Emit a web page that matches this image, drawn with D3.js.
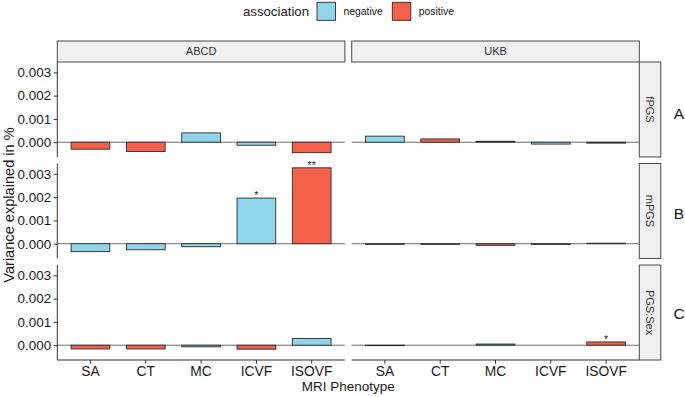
<!DOCTYPE html>
<html>
<head>
<meta charset="utf-8">
<script src="https://cdn.jsdelivr.net/npm/d3@7"></script>
<style>
  html, body { margin: 0; padding: 0; background: #fff; }
  svg text { font-family: "Liberation Sans", Arial, sans-serif; }
</style>
</head>
<body>
<svg id="chart" width="685" height="397"></svg>
<script>
// ---------------- data ----------------
const phenotypes = ["SA", "CT", "MC", "ICVF", "ISOVF"];
const cohorts = ["ABCD", "UKB"];
const pgsTypes = ["fPGS", "mPGS", "PGS:Sex"];
const rowTags = ["A", "B", "C"];
const assocLevels = ["negative", "positive"];
const yTicks = [0, 0.001, 0.002, 0.003];

// variance explained, per phenotype
const abcdFPGS = [-0.00030, -0.00040, 0.00040, -0.00013, -0.00045];
const ukbFPGS  = [0.00026, 0.00014, 0.00004, -0.00008, -0.00004];
const abcdMPGS = [-0.00034, -0.00026, -0.00013, 0.00196, 0.00326];
const ukbMPGS  = [-0.00003, -0.00003, -0.00007, -0.00003, 0.00002];
const abcdSex  = [-0.00016, -0.00016, -0.00007, -0.00017, 0.00029];
const ukbSex   = [-0.00002, 0.00000, 0.00005, 0.00000, 0.00014];

// association direction (n = negative, p = positive)
const abcdFPGSAssoc = ["p", "p", "n", "n", "p"];
const ukbFPGSAssoc  = ["n", "p", "n", "n", "n"];
const abcdMPGSAssoc = ["n", "n", "n", "n", "p"];
const ukbMPGSAssoc  = ["n", "n", "p", "n", "n"];
const abcdSexAssoc  = ["p", "p", "n", "p", "n"];
const ukbSexAssoc   = ["n", "n", "n", "n", "p"];

// significance labels
const abcdFPGSSig = ["", "", "", "", ""];
const ukbFPGSSig  = ["", "", "", "", ""];
const abcdMPGSSig = ["", "", "", "*", "**"];
const ukbMPGSSig  = ["", "", "", "", ""];
const abcdSexSig  = ["", "", "", "", ""];
const ukbSexSig   = ["", "", "", "", "*"];

const valueTable = [[abcdFPGS, ukbFPGS], [abcdMPGS, ukbMPGS], [abcdSex, ukbSex]];
const assocTable = [[abcdFPGSAssoc, ukbFPGSAssoc], [abcdMPGSAssoc, ukbMPGSAssoc], [abcdSexAssoc, ukbSexAssoc]];
const sigTable   = [[abcdFPGSSig, ukbFPGSSig], [abcdMPGSSig, ukbMPGSSig], [abcdSexSig, ukbSexSig]];

const records = [];
pgsTypes.forEach((pgs, r) => cohorts.forEach((coh, c) => phenotypes.forEach((ph, i) => {
  records.push({
    row: r, col: c, pgs, cohort: coh, phenotype: ph,
    value: valueTable[r][c][i],
    assoc: assocTable[r][c][i] === "n" ? "negative" : "positive",
    sig: sigTable[r][c][i]
  });
})));

// ---------------- layout ----------------
const svg = d3.select("#chart");
const colX = [57.3, 351.7], colW = 287.6;
const rowY = [62, 163.5, 265], rowH = 95;
const stripH = 21, stripW = 21.5;
const font = "'Liberation Sans', Arial, sans-serif";
const ink = "#1a1a1a";

const fill = d3.scaleOrdinal().domain(assocLevels).range(["#91d5ea", "#f5604a"]);

const x = d3.scaleBand().domain(phenotypes).range([0, colW]).paddingInner(0.3).paddingOuter(0.25);

const vmin = d3.min(records, d => d.value), vmax = d3.max(records, d => d.value);
const ex = (vmax - vmin) * 0.05;
const yDomain = [vmin - ex, vmax + ex];

// ---------------- panels ----------------
pgsTypes.forEach((pgs, r) => {
  const y = d3.scaleLinear().domain(yDomain).range([rowY[r] + rowH, rowY[r]]);
  cohorts.forEach((coh, c) => {
    const g = svg.append("g").attr("transform", `translate(${colX[c]},0)`);
    // zero reference line
    g.append("line")
      .attr("x1", 0).attr("x2", colW)
      .attr("y1", y(0)).attr("y2", y(0))
      .attr("stroke", "#6e6e6e").attr("stroke-width", 1);
    const data = records.filter(d => d.row === r && d.col === c);
    g.selectAll("rect.bar").data(data).join("rect")
      .attr("class", "bar")
      .attr("x", d => x(d.phenotype))
      .attr("width", x.bandwidth())
      .attr("y", d => Math.min(y(d.value), y(0)))
      .attr("height", d => Math.abs(y(d.value) - y(0)))
      .attr("fill", d => fill(d.assoc))
      .attr("stroke", "#2b2b2b").attr("stroke-width", 0.9);
    g.selectAll("text.sig").data(data.filter(d => d.sig)).join("text")
      .attr("class", "sig")
      .attr("x", d => x(d.phenotype) + x.bandwidth() / 2)
      .attr("y", d => y(Math.max(d.value, 0)) + 1)
      .attr("text-anchor", "middle")
      .attr("font-size", 10.5).attr("fill", ink)
      .text(d => d.sig);

    if (c === 0) {
      const ax = d3.axisLeft(y).tickValues(yTicks).tickFormat(d3.format(".3f")).tickSize(3.7).tickPadding(2.5);
      const axg = g.append("g").call(ax);
      axg.select(".domain").attr("stroke", "#333").attr("stroke-width", 1).attr("d", `M0,${rowY[r]}V${rowY[r] + rowH}`);
      axg.selectAll(".tick line").attr("stroke", "#333");
      axg.selectAll(".tick text").attr("font-size", 13.4).attr("fill", ink).attr("font-family", font);
    }
    if (r === pgsTypes.length - 1) {
      const bx = d3.axisBottom(x).tickSize(3.7).tickPadding(3);
      const bxg = g.append("g").attr("transform", `translate(0,${rowY[r] + rowH})`).call(bx);
      bxg.select(".domain").attr("stroke", "#333").attr("stroke-width", 1).attr("d", `M0,0H${colW}`);
      bxg.selectAll(".tick line").attr("stroke", "#333");
      bxg.selectAll(".tick text").attr("font-size", 13.8).attr("fill", ink).attr("font-family", font);
    }
  });

  // right strip
  const sx = colX[1] + colW;
  svg.append("rect").attr("x", sx).attr("y", rowY[r]).attr("width", stripW).attr("height", rowH)
    .attr("fill", "#f0f0f0").attr("stroke", "#4a4a4a").attr("stroke-width", 1);
  svg.append("text")
    .attr("transform", `translate(${sx + stripW / 2},${rowY[r] + rowH / 2}) rotate(90)`)
    .attr("text-anchor", "middle").attr("dy", "0.35em")
    .attr("font-size", 11).attr("fill", "#333")
    .text(pgs);

  // row tag
  svg.append("text")
    .attr("x", 679).attr("y", [113, 213, 313][r])
    .attr("text-anchor", "middle").attr("dy", "0.36em")
    .attr("font-size", 15.5).attr("fill", ink)
    .text(rowTags[r]);
});

// top strips
cohorts.forEach((coh, c) => {
  svg.append("rect").attr("x", colX[c]).attr("y", rowY[0] - stripH).attr("width", colW).attr("height", stripH)
    .attr("fill", "#f0f0f0").attr("stroke", "#4a4a4a").attr("stroke-width", 1);
  svg.append("text")
    .attr("x", colX[c] + colW / 2).attr("y", rowY[0] - stripH / 2)
    .attr("text-anchor", "middle").attr("dy", "0.35em")
    .attr("font-size", 11).attr("fill", "#333")
    .text(coh);
});

// axis titles
svg.append("text")
  .attr("x", (colX[0] + colX[1] + colW) / 2).attr("y", 391)
  .attr("text-anchor", "middle").attr("font-size", 13.5).attr("fill", ink)
  .text("MRI Phenotype");
svg.append("text")
  .attr("transform", `translate(13.5,205) rotate(-90)`)
  .attr("text-anchor", "middle").attr("font-size", 14.6).attr("fill", ink)
  .text("Variance explained in %");

// legend
const lg = svg.append("g");
lg.append("text").attr("x", 243).attr("y", 11.5).attr("dy", "0.35em")
  .attr("font-size", 13.2).attr("fill", ink).text("association");
const keyX = [317, 392.3];
assocLevels.forEach((lv, i) => {
  lg.append("rect").attr("x", keyX[i]).attr("y", 2.3).attr("width", 18.5).attr("height", 18)
    .attr("fill", fill(lv)).attr("stroke", "#2b2b2b").attr("stroke-width", 0.9);
  lg.append("text").attr("x", keyX[i] + 26.5).attr("y", 11.5).attr("dy", "0.35em")
    .attr("font-size", 10.4).attr("fill", ink).text(lv);
});
</script>
</body>
</html>
